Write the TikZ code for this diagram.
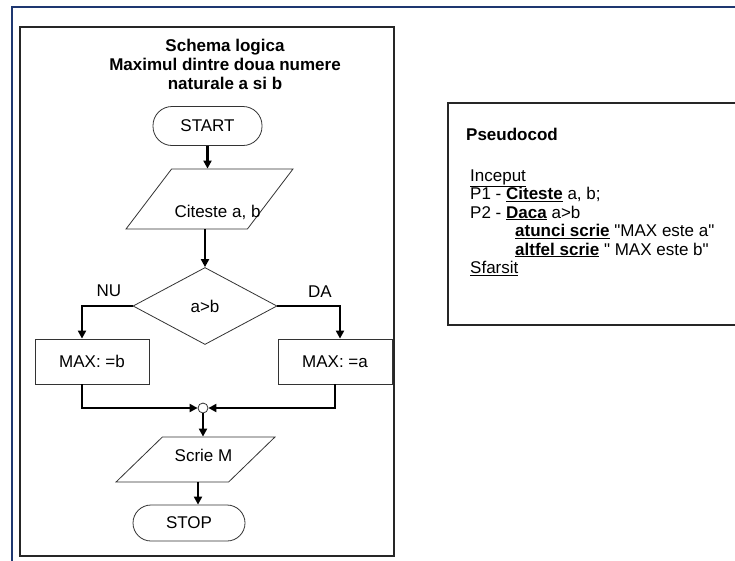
\documentclass[tikz,border=0pt]{standalone}
\usepackage{fontspec}
\setmainfont{Liberation Sans}
\usetikzlibrary{shapes.geometric,arrows.meta}
\definecolor{framenavy}{RGB}{30,55,112}
\tikzset{
	shapeline/.style={draw=black!80,line width=.8pt},
	term/.style={shapeline,rectangle,rounded corners=19pt,minimum width=109pt,minimum height=39pt},
	io/.style={shapeline,trapezium,trapezium stretches=true,inner sep=2pt},
	decis/.style={shapeline,diamond,inner sep=0pt,minimum width=144pt,minimum height=77pt},
	proc/.style={shapeline,rectangle,minimum width=114pt,minimum height=45pt},
	flow/.style={line width=2.4pt,-{Triangle[length=8pt,width=8pt]}},
	pline/.style={anchor=base west,inner sep=0pt}
}
\begin{document}
\begin{tikzpicture}[x=1pt,y=-1pt,font=\fontsize{17pt}{19pt}\selectfont]
		\useasboundingbox (0,0) rectangle (735,560);
		\fill[white] (0,0) rectangle (735,560);
		\draw[framenavy,line width=2.5pt] (740,7) -- (12,7) -- (12,565);
		\draw[black!85,line width=1.5pt] (20,27) rectangle (394,556);
		\draw[black!85,line width=1.5pt] (740,103) -- (448,103) -- (448,325) -- (740,325);
		\node[font=\bfseries\fontsize{17pt}{19pt}\selectfont,align=center] (title) at (225,64) {Schema logica\\Maximul dintre doua numere\\naturale a si b};
		\node[term] (start) at (207.5,126) {START};
		\node[io,trapezium left angle=59,trapezium right angle=121,minimum width=167pt,minimum height=60pt,label={[xshift=8pt,yshift=-13pt]center:{Citeste a, b}}] (cit) at (209.5,199) {};
		\node[decis] (dec) at (205,306) {a>b};
		\node (nu) at (109,291) {NU};
		\node (da) at (320,292) {DA};
		\node[proc] (maxb) at (92,361.5) {MAX: =b};
		\node[proc] (maxa) at (335,361.5) {MAX: =a};
		\node[shapeline,circle,fill=white,inner sep=0pt,minimum size=10pt] (join) at (203,408) {};
		\node[io,trapezium left angle=55,trapezium right angle=125,minimum width=159pt,minimum height=45pt,label={[xshift=8pt,yshift=4pt]center:Scrie M}] (scr) at (195.5,459.5) {};
		\node[term,minimum width=112pt,minimum height=36pt,rounded corners=18pt] (stop) at (189,523) {STOP};
		\draw[flow] (start) -- (start |- cit.north);
		\draw[flow] (dec.north |- cit.south) -- (dec);
		\draw[flow] (dec.west) -| ([xshift=-10pt]maxb.north);
		\draw[flow] (dec.east) -| ([xshift=5pt]maxa.north);
		\draw[flow] ([xshift=-10pt]maxb.south) |- (join);
		\draw[flow] (maxa.south) |- (join);
		\draw[flow] (join) -- (join |- scr.north);
		\draw[flow] ([xshift=9pt]stop.north |- scr.south) -- ([xshift=9pt]stop.north);
		\node[pline,font=\bfseries\fontsize{17pt}{19pt}\selectfont] (pseudo) at (466,140) {Pseudocod};
		\node[pline] (l1) at (470,181) {\underline{Inceput}};
		\node[pline] (l2) at (470,199.5) {P1 - \underline{\textbf{Citeste}} a, b;};
		\node[pline] (l3) at (470,218) {P2 - \underline{\textbf{Daca}} a>b};
		\node[pline] (l4) at (515,236.5) {\underline{\textbf{atunci scrie}} \textquotedbl MAX este a\textquotedbl};
		\node[pline] (l5) at (515,255) {\underline{\textbf{altfel scrie}} \textquotedbl{} MAX este b\textquotedbl};
		\node[pline] (l6) at (470,273.5) {\underline{Sfarsit}};
	    \end{tikzpicture}
\end{document}
